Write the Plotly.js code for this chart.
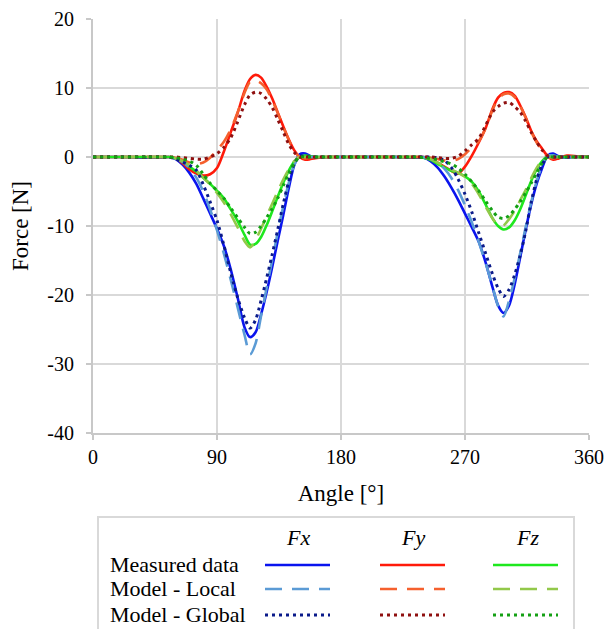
<!DOCTYPE html>
<html>
<head>
<meta charset="utf-8">
<script src="https://cdn.plot.ly/plotly-3.0.1.min.js"></script>
<style>html,body{margin:0;padding:0;background:#fff;}#chart{width:607px;height:629px;}</style>
</head>
<body>
<div id="chart"></div>
<script>
const angle = [0,20,40,50,55,60,65,70,75,80,85,90,95,100,105,110,114,118,122,126,130,134,138,142,146,150,154,158,164,172,180,
  200,220,230,235,240,245,250,255,260,265,270,275,280,285,290,294,298,302,306,310,314,318,322,326,330,334,338,344,352,360];

const fxMeasured = [0,0,-0.1,-0.1,0,-0.3,-1.1,-2.3,-3.9,-6.0,-8.2,-10.4,-12.9,-16.3,-20.4,-24.7,-26.1,-25.4,-22.8,-19.6,-16.0,-12.2,-8.5,-4.6,-1.2,0.4,0.5,0.1,-0.1,0,0,
  0,0,-0.1,-0.1,-0.1,-0.6,-1.5,-2.8,-4.4,-6.2,-8.2,-10.2,-12.3,-15.3,-18.9,-21.5,-22.6,-21.5,-18.5,-14.6,-10.6,-6.9,-3.9,-1.6,0.2,0.5,0.1,-0.1,0.1,0];
const fxLocal = [0,0,0,0,0,-0.2,-0.7,-1.6,-3.0,-5.0,-7.6,-10.6,-14.0,-17.8,-21.8,-25.8,-28.6,-27.0,-23.0,-19.0,-15.0,-11.0,-7.2,-3.8,-1.2,0.2,0.2,0,0,0,0,
  0,0,0,0,0,-0.3,-0.8,-1.7,-3.0,-4.8,-7.0,-9.5,-12.3,-15.4,-18.8,-21.6,-23.1,-20.8,-17.6,-14.0,-10.2,-6.6,-3.5,-1.2,0.2,0.2,0,0,0,0];
const fxGlobal = [0,0,0,0,0,-0.3,-0.7,-1.2,-1.9,-4.0,-6.5,-9.2,-12.8,-16.8,-20.4,-23.3,-24.8,-23.6,-20.8,-17.6,-14.2,-10.6,-6.9,-3.6,-1.0,0.1,0.1,0,0,0,0,
  0,0,0,0,0,0,-0.1,-0.5,-1.5,-3.2,-5.4,-8.0,-11.0,-14.0,-17.0,-19.0,-20.2,-19.2,-17.1,-14.3,-10.8,-6.6,-3.3,-1.1,0,0,0,0,0,0];

const fyMeasured = [0,0,0,0,0,-0.2,-0.9,-1.8,-2.4,-2.7,-2.5,-1.6,0.8,3.6,6.4,9.6,11.3,11.9,11.5,10.2,8.5,6.5,4.5,2.6,1.0,0,-0.4,-0.3,-0.1,0,0,
  0,0,0,0,0,-0.3,-0.8,-1.4,-2.0,-2.4,-1.4,0.2,2.1,4.2,7.0,8.6,9.3,9.4,8.9,7.5,5.8,3.8,2.3,1.2,0.1,-0.4,-0.2,0.2,0.1,0];
const fyLocal = [0,0,0,0,0,-0.1,-0.4,-0.8,-1.0,-0.8,-0.1,1.0,2.2,4.0,6.5,9.3,10.9,11.1,10.7,9.8,8.3,6.4,4.4,2.5,0.9,0,-0.2,-0.1,0,0,0,
  0,0,0,0,0,-0.1,-0.3,-0.5,-0.6,-0.3,0.4,1.4,2.3,4.2,6.8,8.4,9.1,9.2,8.7,7.4,5.7,3.7,2.1,1.0,0,-0.2,0,0,0,0];
const fyGlobal = [0,0,0,0,0,0,-0.1,-0.2,-0.3,-0.3,0,0.5,1.4,2.8,5.1,7.6,9.0,9.4,9.2,8.4,7.2,5.5,3.7,1.9,0.7,0,0,0,0,0,0,
  0,0,0,0,0,0,-0.1,-0.2,-0.2,0.1,0.9,1.8,2.7,4.6,6.5,7.3,7.8,7.9,7.3,6.5,5.2,3.6,2.2,1.0,0.2,0,0,0,0,0];

const fzMeasured = [0,0,0,0,0,-0.2,-0.7,-1.4,-2.1,-3.0,-3.9,-4.9,-6.0,-7.6,-9.3,-11.3,-12.7,-12.6,-11.6,-9.9,-7.9,-5.8,-3.8,-2.0,-0.7,0,0.2,0.1,0,0,0,
  0,0,0,0,-0.1,-0.4,-1.0,-1.5,-2.0,-2.3,-2.8,-3.6,-5.0,-6.9,-8.9,-10.0,-10.5,-10.2,-9.2,-7.6,-5.6,-3.5,-1.8,-0.6,0.1,0.2,0,0,0,0];
const fzLocal = [0,0,0,0,0,-0.2,-0.6,-1.2,-2.0,-3.0,-4.0,-5.2,-6.6,-8.3,-10.2,-12.2,-13.1,-12.0,-10.4,-8.6,-6.8,-5.0,-3.3,-1.8,-0.6,0,0,0,0,0,0,
  0,0,0,0,-0.1,-0.3,-0.8,-1.3,-1.8,-2.3,-2.9,-3.9,-5.4,-7.2,-8.9,-9.9,-9.9,-9.0,-7.8,-6.3,-4.8,-3.1,-1.6,-0.5,0,0,0,0,0,0];
const fzGlobal = [0,0,0,0,0,-0.1,-0.3,-0.6,-1.2,-2.5,-3.8,-4.9,-6.0,-7.4,-8.8,-10.2,-11.1,-10.9,-10.0,-8.8,-7.5,-6.0,-4.2,-2.4,-0.9,0,0,0,0,0,0,
  0,0,0,0,-0.1,-0.2,-0.4,-0.7,-1.0,-1.6,-2.5,-3.6,-4.9,-6.4,-7.8,-8.7,-8.9,-8.5,-7.6,-6.5,-5.2,-3.8,-2.3,-0.9,0,0,0,0,0,0];

const xTicks = [0,90,180,270,360];
const yTicks = [-40,-30,-20,-10,0,10,20];
const components = ['Fx','Fy','Fz'];
const rowLabels = ['Measured data','Model - Local','Model - Global'];

const colors = {
  Fx: ['#0a14ee', '#5b9bd5', '#0a1a8a'],
  Fy: ['#ff1a0a', '#f5602e', '#8f1010'],
  Fz: ['#1ee81e', '#92c84a', '#14a014']
};
const dashes = ['solid', '17px,10px', '3px,4px'];
const widths = [2.6, 2.6, 3];

const series = {
  Fx: [fxMeasured, fxLocal, fxGlobal],
  Fy: [fyMeasured, fyLocal, fyGlobal],
  Fz: [fzMeasured, fzLocal, fzGlobal]
};

const FONT = 'Liberation Serif, Tinos, DejaVu Serif, Times New Roman, serif';

const traces = [];
for (let r = 0; r < 3; r++) {
  for (const c of components) {
    traces.push({
      x: angle, y: series[c][r], type: 'scatter', mode: 'lines',
      line: {color: colors[c][r], width: widths[r], dash: dashes[r], shape: 'spline', smoothing: 0.8},
      hoverinfo: 'skip', showlegend: false
    });
  }
}

// pixel helpers for the custom table legend (plot area: x 93..589, y 19..433)
const L = 93, R = 589, T = 19, B = 433;
const px = v => (v - L) / (R - L);
const py = v => (B - v) / (B - T);

const shapes = [{
  type: 'rect', xref: 'paper', yref: 'paper',
  x0: px(98), x1: px(574), y0: py(517), y1: py(660),
  line: {color: '#d9d9d9', width: 2}, fillcolor: 'rgba(0,0,0,0)'
}];
const annotations = [];
const colX = [[265, 330], [380, 445], [493, 558]];
const colCenter = [298, 413, 527];
const rowY = [565, 589, 615];
components.forEach((c, i) => {
  annotations.push({
    xref: 'paper', yref: 'paper', x: px(colCenter[i]), y: py(537),
    text: '<i>' + c + '</i>', showarrow: false, xanchor: 'center', yanchor: 'middle',
    font: {family: FONT, size: 22, color: '#000'}
  });
  for (let r = 0; r < 3; r++) {
    shapes.push({
      type: 'line', xref: 'paper', yref: 'paper',
      x0: px(colX[i][0]), x1: px(colX[i][1]), y0: py(rowY[r]), y1: py(rowY[r]),
      line: {color: colors[c][r], width: widths[r], dash: dashes[r]}
    });
  }
});
rowLabels.forEach((t, r) => {
  annotations.push({
    xref: 'paper', yref: 'paper', x: px(108), y: py(rowY[r] - 1),
    text: t, showarrow: false, xanchor: 'left', yanchor: 'middle',
    font: {family: FONT, size: 22, color: '#000'}
  });
});

const layout = {
  width: 607, height: 629,
  margin: {l: L, r: 607 - R, t: T, b: 629 - B, pad: 0},
  paper_bgcolor: '#fff', plot_bgcolor: '#fff',
  showlegend: false,
  font: {family: FONT, size: 20, color: '#000'},
  xaxis: {
    range: [0, 360], tickvals: xTicks, ticktext: xTicks.map(String),
    showgrid: true, gridcolor: '#d9d9d9', gridwidth: 2,
    showline: true, linecolor: '#c8c8c8', linewidth: 2,
    ticks: 'outside', ticklen: 5, tickcolor: '#c8c8c8', tickwidth: 2,
    zeroline: false, mirror: false,
    tickfont: {family: FONT, size: 20, color: '#000'},
    title: {text: 'Angle [°]', font: {family: FONT, size: 23, color: '#000'}, standoff: 18}
  },
  yaxis: {
    range: [-40, 20], tickvals: yTicks, ticktext: yTicks.map(String),
    showgrid: true, gridcolor: '#d9d9d9', gridwidth: 2,
    showline: true, linecolor: '#c8c8c8', linewidth: 2,
    ticks: 'outside', ticklen: 5, tickcolor: '#c8c8c8', tickwidth: 2,
    ticklabelstandoff: 8,
    zeroline: false,
    tickfont: {family: FONT, size: 20, color: '#000'},
    title: {text: 'Force [N]', font: {family: FONT, size: 23, color: '#000'}, standoff: 12}
  },
  shapes: shapes,
  annotations: annotations
};

Plotly.newPlot('chart', traces, layout, {staticPlot: true, displayModeBar: false});
</script>
</body>
</html>
